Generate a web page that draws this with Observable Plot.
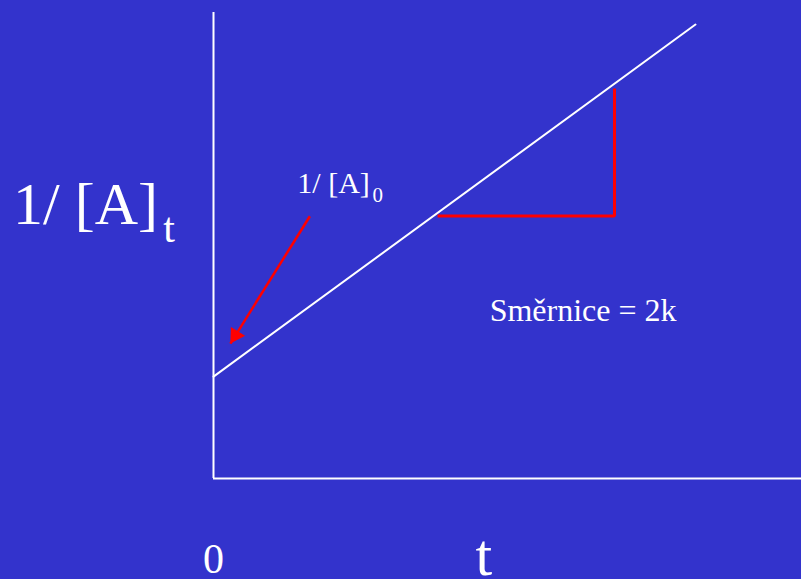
<!DOCTYPE html>
<html>
<head>
<meta charset="utf-8">
<script src="https://cdn.jsdelivr.net/npm/d3@7"></script>
<script src="https://cdn.jsdelivr.net/npm/@observablehq/plot@0.6"></script>
<style>
  html, body { margin: 0; padding: 0; background: #3333cc; overflow: hidden; }
</style>
</head>
<body>
<div id="chart"></div>
<script>
// Second-order kinetics: 1/[A]t rises linearly with time t, slope 2k.
const lineT = [0, 10];
const lineInvA = [4, 17.83];

// Slope triangle drawn under the line
const slopeT = [4.65, 8.32, 8.32];
const slopeInvA = [10.31, 10.31, 15.32];

// Arrow pointing at the intercept 1/[A]0 (start, tip)
const arrowT = [2.0, 0.35];
const arrowInvA = [10.3, 5.3];

const xTicks = [0];
const yTitle = "1/ [A]_t";
const xTitle = "t";
const interceptLabel = "1/ [A]_0";
const slopeLabel = "Směrnice = 2k";

const line = lineT.map((t, i) => ({t, v: lineInvA[i]}));
const slope = slopeT.map((t, i) => ({t, v: slopeInvA[i]}));
const arrow = [{t1: arrowT[0], v1: arrowInvA[0], t2: arrowT[1], v2: arrowInvA[1]}];

const font = "'Liberation Serif', 'Times New Roman', serif";
const white = "#ffffff";
const red = "#ff0000";

const chart = Plot.plot({
  width: 801,
  height: 579,
  marginLeft: 213,
  marginRight: 0,
  marginTop: 12,
  marginBottom: 101,
  x: {domain: [0, 12.2], axis: null},
  y: {domain: [0, 18.3], axis: null},
  style: {background: "#3333cc", fontFamily: font, color: white, overflow: "visible"},
  marks: [
    Plot.ruleX([0], {stroke: white, strokeWidth: 2}),
    Plot.ruleY([0], {stroke: white, strokeWidth: 2}),
    Plot.line(line, {x: "t", y: "v", stroke: white, strokeWidth: 2}),
    Plot.line(slope, {x: "t", y: "v", stroke: red, strokeWidth: 3, strokeLinejoin: "miter", strokeLinecap: "butt"}),
    Plot.link(arrow, {x1: "t1", y1: "v1", x2: "t2", y2: "v2", stroke: red, strokeWidth: 2.5}),
    Plot.dot(arrow, {x: "t2", y: "v2", symbol: "triangle", r: 6.2, rotate: 212, dx: 5.1, dy: -8.1, fill: red, stroke: "none"}),
    Plot.text(xTicks, {x: d => d, y: -3.7, text: d => String(d), fontSize: 42, lineAnchor: "bottom", fill: white}),
    Plot.text([xTitle], {x: 5.61, y: -3.8, text: d => d, fontSize: 60, lineAnchor: "bottom", fill: white}),
    Plot.text([yTitle], {x: -4.16, y: 10.0, text: d => d, fontSize: 60, lineAnchor: "bottom", textAnchor: "start", fill: white}),
    Plot.text([interceptLabel], {x: 1.74, y: 11.2, text: d => d, fontSize: 30, lineAnchor: "bottom", textAnchor: "start", fill: white}),
    Plot.text([slopeLabel], {x: 5.73, y: 6.17, text: d => d, fontSize: 32, lineAnchor: "bottom", textAnchor: "start", fill: white})
  ]
});

document.getElementById("chart").append(chart);

// Turn "main_sub" labels into text with a lowered, smaller subscript
d3.select(chart).selectAll("text").each(function() {
  const s = this.textContent;
  const k = s.indexOf("_");
  if (k < 0) return;
  const size = parseFloat(getComputedStyle(this).fontSize) || 30;
  this.textContent = s.slice(0, k);
  d3.select(this).append("tspan")
    .attr("font-size", size * 0.7)
    .attr("dx", size * 0.09)
    .attr("dy", size * 0.3)
    .text(s.slice(k + 1));
});
</script>
</body>
</html>
